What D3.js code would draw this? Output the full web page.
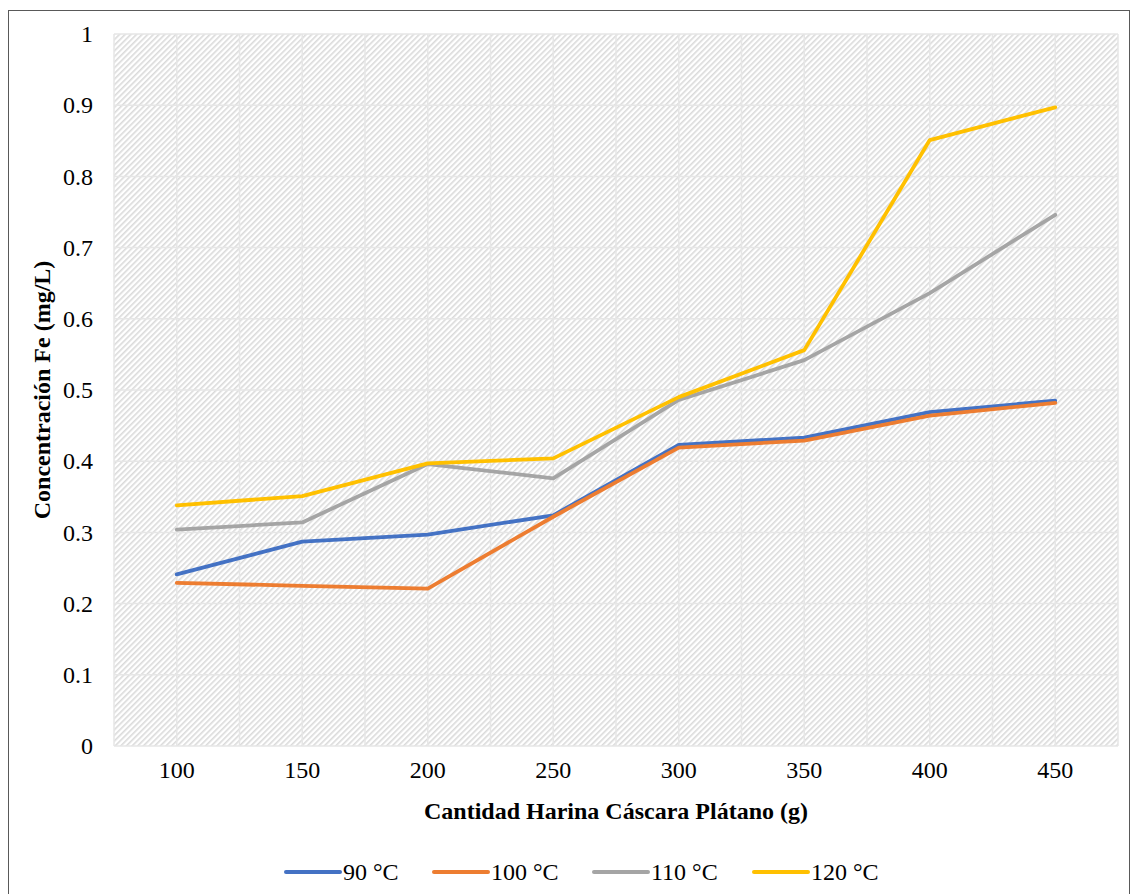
<!DOCTYPE html>
<html>
<head>
<meta charset="utf-8">
<script src="https://cdn.jsdelivr.net/npm/d3@7/dist/d3.min.js"></script>
<style>
  html, body { margin: 0; padding: 0; background: #fff; }
  svg { display: block; }
  text { font-family: "Liberation Serif", "Times New Roman", serif; fill: #000; }
</style>
</head>
<body>
<svg id="chart" width="1131" height="894"></svg>
<script>
// Iron concentration by amount of banana-peel flour, one series per temperature
const categories = [100, 150, 200, 250, 300, 350, 400, 450];
const seriesNames = ["90 °C", "100 °C", "110 °C", "120 °C"];
const colors = ["#4472C4", "#ED7D31", "#A5A5A5", "#FFC000"];
const s90  = [0.241, 0.287, 0.297, 0.324, 0.423, 0.433, 0.469, 0.485];
const s100 = [0.229, 0.225, 0.221, 0.322, 0.419, 0.429, 0.464, 0.482];
const s110 = [0.304, 0.314, 0.396, 0.376, 0.486, 0.542, 0.636, 0.746];
const s120 = [0.338, 0.351, 0.397, 0.404, 0.490, 0.556, 0.851, 0.897];
const yTicks = [0, 0.1, 0.2, 0.3, 0.4, 0.5, 0.6, 0.7, 0.8, 0.9, 1];
const allSeries = [s90, s100, s110, s120];

const FONT = "'Liberation Serif', 'Times New Roman', serif";
const svg = d3.select("#chart");
const plot = { left: 114, right: 1118, top: 34, bottom: 746 };

// Outer chart frame
svg.append("rect")
  .attr("x", 8.5).attr("y", 10.5)
  .attr("width", 1121).attr("height", 890)
  .attr("fill", "#fff").attr("stroke", "#595959").attr("stroke-width", 1);

// Diagonal hatch fill of the plot area
const defs = svg.append("defs");
const pat = defs.append("pattern")
  .attr("id", "hatch")
  .attr("patternUnits", "userSpaceOnUse")
  .attr("width", 4).attr("height", 4)
  .attr("patternTransform", "rotate(-45)");
pat.append("rect").attr("width", 4).attr("height", 4).attr("fill", "#fff");
pat.append("rect").attr("x", 0).attr("y", 0).attr("width", 4).attr("height", 1.6).attr("fill", "#dadada");

const x = d3.scaleBand()
  .domain(categories)
  .range([plot.left, plot.right])
  .paddingInner(0).paddingOuter(0);
const y = d3.scaleLinear().domain([0, 1]).range([plot.bottom, plot.top]);
const cx = d => x(d) + x.bandwidth() / 2;

svg.append("rect")
  .attr("x", plot.left).attr("y", plot.top)
  .attr("width", plot.right - plot.left).attr("height", plot.bottom - plot.top)
  .attr("fill", "url(#hatch)");

// Gridlines: horizontal at each tick, vertical at category centres and boundaries
const grid = svg.append("g").attr("stroke", "#e6e6e6").attr("stroke-width", 1.5);
yTicks.forEach(t => {
  grid.append("line")
    .attr("x1", plot.left).attr("x2", plot.right)
    .attr("y1", y(t)).attr("y2", y(t));
});
const vLines = [];
categories.forEach(c => { vLines.push(x(c)); vLines.push(cx(c)); });
vLines.push(plot.right);
vLines.forEach(v => {
  grid.append("line")
    .attr("x1", v).attr("x2", v)
    .attr("y1", plot.top).attr("y2", plot.bottom);
});

// Axes
const yAxis = d3.axisLeft(y).tickValues(yTicks).tickSize(0).tickPadding(0)
  .tickFormat(d => d === 0 || d === 1 ? d3.format("d")(d) : d3.format(".1f")(d));
const yG = svg.append("g").attr("transform", `translate(${plot.left - 21},0)`).call(yAxis)
  .attr("font-family", null).attr("font-size", 24);
yG.select(".domain").remove();
yG.selectAll("text").attr("dy", "0.32em").style("font-family", FONT);

const xAxis = d3.axisBottom(x).tickSize(0).tickPadding(0);
const xG = svg.append("g").attr("transform", `translate(0,${plot.bottom + 15})`).call(xAxis)
  .attr("font-family", null).attr("font-size", 24);
xG.select(".domain").remove();
xG.selectAll("text").attr("dy", "0.71em").style("font-family", FONT);

// Axis titles
svg.append("text")
  .attr("x", 616).attr("y", 819)
  .attr("text-anchor", "middle")
  .attr("font-size", 24).attr("font-weight", "bold")
  .text("Cantidad Harina Cáscara Plátano (g)");

svg.append("text")
  .attr("transform", `translate(50,${(plot.top + plot.bottom) / 2}) rotate(-90)`)
  .attr("text-anchor", "middle")
  .attr("font-size", 24).attr("font-weight", "bold")
  .text("Concentración Fe (mg/L)");

// Series lines
const line = d3.line()
  .x((d, i) => cx(categories[i]))
  .y(d => y(d));
allSeries.forEach((vals, k) => {
  svg.append("path")
    .datum(vals)
    .attr("fill", "none")
    .attr("stroke", colors[k])
    .attr("stroke-width", 3.8)
    .attr("stroke-linejoin", "round")
    .attr("stroke-linecap", "round")
    .attr("d", line);
});

// Legend
const legendX = [286, 434, 594, 754];
const legend = svg.append("g");
seriesNames.forEach((name, k) => {
  const gx = legendX[k];
  legend.append("line")
    .attr("x1", gx).attr("x2", gx + 54)
    .attr("y1", 872).attr("y2", 872)
    .attr("stroke", colors[k]).attr("stroke-width", 4)
    .attr("stroke-linecap", "round");
  legend.append("text")
    .attr("x", gx + 57).attr("y", 880)
    .attr("font-size", 24)
    .text(name);
});
</script>
</body>
</html>
